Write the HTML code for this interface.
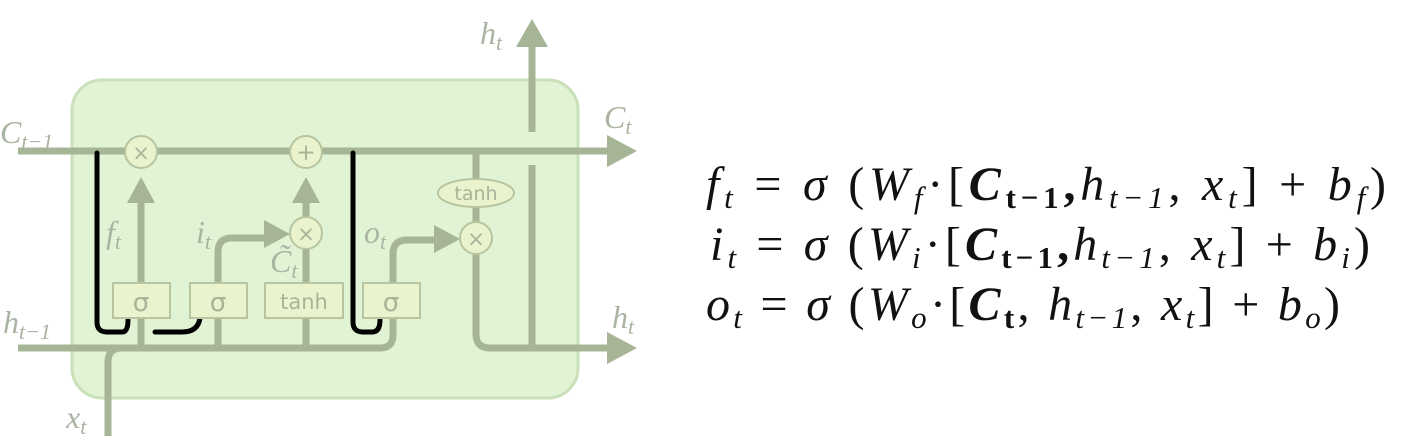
<!DOCTYPE html>
<html><head><meta charset="utf-8"><style>
html,body{margin:0;padding:0;background:#fff;}
svg{display:block;}
.serif{font-family:"Liberation Serif","Noto Serif CJK SC","DejaVu Serif",serif;}
</style></head><body>
<svg width="1404" height="448" viewBox="0 0 1404 448">
<g>
<rect x="72" y="80" width="506" height="318" rx="30" fill="#e1f3d5" stroke="#c9e0b8" stroke-width="3"/>
<g fill="none" stroke="#a5b595" stroke-width="7" stroke-linecap="butt">
<line x1="18" y1="151" x2="615" y2="151"/>
<path d="M18 348 H380 Q393 348 393 335 V318"/>
<path d="M108 436 V362 Q108 348 122 348"/>
<line x1="141" y1="348" x2="141" y2="318"/><line x1="141" y1="283" x2="141" y2="200"/>
<line x1="218" y1="348" x2="218" y2="318"/>
<path d="M218 283 V252 Q218 238 232 238 H272"/>
<line x1="306" y1="348" x2="306" y2="318"/>
<line x1="306" y1="283" x2="306" y2="249"/>
<line x1="306" y1="217" x2="306" y2="200"/>
<path d="M393 283 V254 Q393 240 407 240 H440"/>
<line x1="476" y1="151" x2="476" y2="180"/>
<line x1="476" y1="207" x2="476" y2="222"/>
<path d="M476 254 V334 Q476 348 490 348 H615"/>
<line x1="532" y1="348" x2="532" y2="165"/>
<line x1="532" y1="132" x2="532" y2="45"/>
</g>
<g fill="#a5b595">
<polygon points="637,151 607,135 607,167"/>
<polygon points="637,348 607,332 607,364"/>
<polygon points="532,19 516,47 548,47"/>
<polygon points="141,177 127,203 155,203"/>
<polygon points="306,177 292,203 320,203"/>
<polygon points="290,234 264,220 264,248"/>
<polygon points="460,239 434,225 434,253"/>
</g>
<g fill="none" stroke="#000" stroke-width="5" stroke-linecap="round">
<path d="M97 153 V322 Q97 332 107 332 H122 Q128 332 128 320"/>
<path d="M155 332 H182 Q198 332 200 318"/>
<path d="M353 153 V322 Q353 332 363 332 H372 Q380 332 380 320"/>
</g>
<g stroke="#b8c59f" stroke-width="2" fill="#e9f3cd">
<rect x="113" y="283" width="57" height="35"/>
<rect x="190" y="283" width="57" height="35"/>
<rect x="265" y="283" width="78" height="35"/>
<rect x="363" y="283" width="57" height="35"/>
<circle cx="141" cy="152" r="16"/>
<circle cx="306" cy="152" r="16"/>
<circle cx="306" cy="233" r="16"/>
<circle cx="476" cy="238" r="16"/>
<ellipse cx="476" cy="193" rx="38" ry="14"/>
</g>
<g font-family="DejaVu Sans, sans-serif" fill="#a8b398" text-anchor="middle">
<text x="141" y="311" font-size="26">σ</text>
<text x="218" y="311" font-size="26">σ</text>
<text x="304" y="309" font-size="21">tanh</text>
<text x="391" y="311" font-size="26">σ</text>
<text x="476" y="200" font-size="19">tanh</text>
<text x="141" y="160" font-size="21">×</text>
<text x="306" y="160" font-size="23">+</text>
<text x="306" y="241" font-size="21">×</text>
<text x="476" y="246" font-size="21">×</text>
</g>
<g class="serif" font-style="italic" fill="#aab4a2" font-size="32">
<text x="0" y="143">C<tspan font-size="22" dy="6">t−1</tspan></text>
<text x="480" y="44">h<tspan font-size="22" dy="6">t</tspan></text>
<text x="604" y="128">C<tspan font-size="22" dy="6">t</tspan></text>
<text x="3" y="333">h<tspan font-size="22" dy="6">t−1</tspan></text>
<text x="612" y="328">h<tspan font-size="22" dy="6">t</tspan></text>
<text x="66" y="428">x<tspan font-size="22" dy="6">t</tspan></text>
<text x="106" y="243">f<tspan font-size="22" dy="6">t</tspan></text>
<text x="196" y="243">i<tspan font-size="22" dy="6">t</tspan></text>
<text x="270" y="272">C̃<tspan font-size="22" dy="6">t</tspan></text>
<text x="364" y="243">o<tspan font-size="22" dy="6">t</tspan></text>
</g>
</g>
<g class="serif" fill="#111" font-size="48">
<text x="706" y="200" textLength="680" lengthAdjust="spacing"><tspan font-style="italic">f</tspan><tspan font-style="italic" font-size="31" dy="8">t</tspan><tspan dy="-8"> = </tspan><tspan font-style="italic">σ</tspan> (<tspan font-style="italic">W</tspan><tspan font-style="italic" font-size="31" dy="8">f</tspan><tspan dy="-8">·[</tspan><tspan font-weight="bold" font-style="italic">C</tspan><tspan font-weight="bold" font-size="31" dy="8">t−1</tspan><tspan font-weight="bold" dy="-8">,</tspan><tspan font-style="italic">h</tspan><tspan font-style="italic" font-size="31" dy="8">t−1</tspan><tspan dy="-8">, </tspan><tspan font-style="italic">x</tspan><tspan font-style="italic" font-size="31" dy="8">t</tspan><tspan dy="-8">]  +  </tspan><tspan font-style="italic">b</tspan><tspan font-style="italic" font-size="31" dy="8">f</tspan><tspan dy="-8">)</tspan></text>
<text x="710" y="260" textLength="660" lengthAdjust="spacing"><tspan font-style="italic">i</tspan><tspan font-style="italic" font-size="31" dy="8">t</tspan><tspan dy="-8"> = </tspan><tspan font-style="italic">σ</tspan> (<tspan font-style="italic">W</tspan><tspan font-style="italic" font-size="31" dy="8">i</tspan><tspan dy="-8">·[</tspan><tspan font-weight="bold" font-style="italic">C</tspan><tspan font-weight="bold" font-size="31" dy="8">t−1</tspan><tspan font-weight="bold" dy="-8">,</tspan><tspan font-style="italic">h</tspan><tspan font-style="italic" font-size="31" dy="8">t−1</tspan><tspan dy="-8">, </tspan><tspan font-style="italic">x</tspan><tspan font-style="italic" font-size="31" dy="8">t</tspan><tspan dy="-8">]  +  </tspan><tspan font-style="italic">b</tspan><tspan font-style="italic" font-size="31" dy="8">i</tspan><tspan dy="-8">)</tspan></text>
<text x="706" y="320" textLength="634" lengthAdjust="spacing"><tspan font-style="italic">o</tspan><tspan font-style="italic" font-size="31" dy="8">t</tspan><tspan dy="-8"> = </tspan><tspan font-style="italic">σ</tspan> (<tspan font-style="italic">W</tspan><tspan font-style="italic" font-size="31" dy="8">o</tspan><tspan dy="-8">·[</tspan><tspan font-weight="bold" font-style="italic">C</tspan><tspan font-weight="bold" font-size="31" dy="8">t</tspan><tspan dy="-8">, </tspan><tspan font-style="italic">h</tspan><tspan font-style="italic" font-size="31" dy="8">t−1</tspan><tspan dy="-8">, </tspan><tspan font-style="italic">x</tspan><tspan font-style="italic" font-size="31" dy="8">t</tspan><tspan dy="-8">]  +  </tspan><tspan font-style="italic">b</tspan><tspan font-style="italic" font-size="31" dy="8">o</tspan><tspan dy="-8">)</tspan></text>
</g>
</svg>
</body></html>
